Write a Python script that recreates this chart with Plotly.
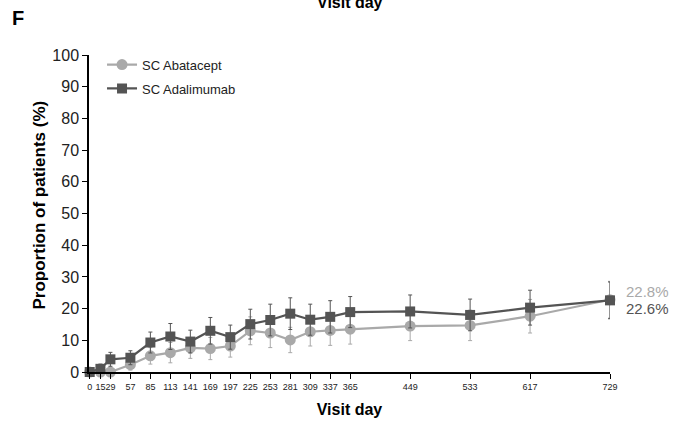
import plotly.graph_objects as go

visit_days = [0, 15, 29, 57, 85, 113, 141, 169, 197, 225, 253, 281, 309, 337, 365, 449, 533, 617, 729]
tick_labels = [str(d) for d in visit_days]

abatacept = [0, 0, 0, 2.3, 5.1, 6.1, 7.6, 7.4, 8.2, 13.0, 12.3, 10.1, 12.7, 13.1, 13.5, 14.5, 14.7, 17.6, 22.8]
abatacept_err = [0, 0, 0, 1.7, 2.6, 3.2, 3.3, 3.5, 3.5, 4.4, 4.6, 4.0, 4.5, 4.7, 4.7, 4.6, 4.8, 5.3, 5.8]

adalimumab = [0, 1.0, 4.0, 4.5, 9.3, 11.2, 9.6, 13.0, 11.0, 15.1, 16.4, 18.4, 16.5, 17.4, 18.9, 19.1, 18.0, 20.3, 22.6]
adalimumab_err = [0, 1.5, 2.2, 2.2, 3.3, 4.1, 3.6, 4.2, 3.8, 4.7, 5.0, 5.0, 4.9, 5.1, 4.9, 5.2, 5.0, 5.5, 5.8]

series_names = ["SC Abatacept", "SC Adalimumab"]
end_labels = ["22.8%", "22.6%"]

LIGHT = "#a9a9a9"
DARK = "#545454"
FONT = "Liberation Sans, Arial, Helvetica, sans-serif"

fig = go.Figure()
fig.add_trace(go.Scatter(
    x=visit_days, y=abatacept, name=series_names[0], mode="lines+markers",
    line=dict(color=LIGHT, width=2.2),
    marker=dict(symbol="circle", size=11, color=LIGHT),
    error_y=dict(type="data", array=abatacept_err, visible=True, color=LIGHT, thickness=1, width=2),
    cliponaxis=False, legendgroup="a",
))
fig.add_trace(go.Scatter(
    x=visit_days, y=adalimumab, name=series_names[1], mode="lines+markers",
    line=dict(color=DARK, width=2.2),
    marker=dict(symbol="square", size=10, color=DARK),
    error_y=dict(type="data", array=adalimumab_err, visible=True, color=DARK, thickness=1, width=2),
    cliponaxis=False, legendgroup="b",
))

# end labels
fig.add_annotation(x=visit_days[-1], y=abatacept[-1], text=end_labels[0], showarrow=False,
                   xanchor="left", yanchor="middle", xshift=14, yshift=8,
                   font=dict(family=FONT, size=15, color=LIGHT))
fig.add_annotation(x=visit_days[-1], y=adalimumab[-1], text=end_labels[1], showarrow=False,
                   xanchor="left", yanchor="middle", xshift=14, yshift=-8,
                   font=dict(family=FONT, size=15, color=DARK))

# panel letter and cut-off top title
fig.add_annotation(xref="paper", yref="paper", x=0, y=1, xshift=-79, yshift=24,
                   text="<b>F</b>", showarrow=False, xanchor="left", yanchor="bottom",
                   font=dict(family=FONT, size=20, color="black"))
fig.add_annotation(xref="paper", yref="paper", x=0.5, y=1, yshift=53,
                   text="<b>Visit day</b>", showarrow=False, xanchor="center", yanchor="middle",
                   font=dict(family=FONT, size=16, color="black"))
# y axis title
fig.add_annotation(xref="paper", yref="paper", x=0, y=0.5, xshift=-50, yshift=8,
                   text="<b>Proportion of patients (%)</b>", showarrow=False, textangle=-90,
                   xanchor="center", yanchor="middle",
                   font=dict(family=FONT, size=17, color="black"))

fig.update_layout(
    width=677, height=422,
    margin=dict(l=89, r=67, t=55, b=50),
    paper_bgcolor="white", plot_bgcolor="white",
    font=dict(family=FONT, color="black"),
    showlegend=True,
    legend=dict(x=0.025, y=1.017, xanchor="left", yanchor="top", bgcolor="rgba(0,0,0,0)",
                font=dict(family=FONT, size=13, color="#222222"), tracegroupgap=4),
    xaxis=dict(
        range=[-1, 729], tickmode="array", tickvals=visit_days, ticktext=tick_labels,
        showgrid=False, zeroline=False, showline=True, linecolor="black", linewidth=1.5,
        ticks="outside", ticklen=5, tickcolor="black", tickwidth=1.2, tickangle=0,
        automargin=False,
        tickfont=dict(family=FONT, size=9, color="#222222"),
        title=dict(text="<b>Visit day</b>", font=dict(family=FONT, size=16, color="black"), standoff=13),
    ),
    yaxis=dict(
        range=[0, 100], tickvals=[0, 10, 20, 30, 40, 50, 60, 70, 80, 90, 100],
        showgrid=False, zeroline=False, showline=True, linecolor="black", linewidth=1.5,
        ticks="outside", ticklen=5, tickcolor="black", tickwidth=1.2, automargin=False,
        tickfont=dict(family=FONT, size=16, color="#222222"),
    ),
)

fig.write_html("out.html")
